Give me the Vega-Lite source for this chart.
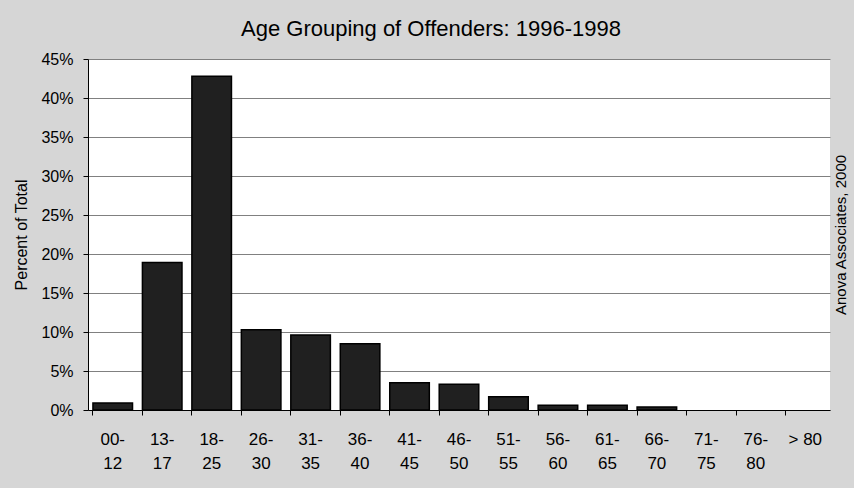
{
  "$schema": "https://vega.github.io/schema/vega-lite/v6.json",
  "width": 742,
  "height": 351,
  "autosize": {"type": "none"},
  "padding": {"left": 88, "top": 59, "right": 24, "bottom": 78},
  "background": "#d6d6d6",
  "config": {"view": {"stroke": null, "fill": "white"}, "font": "Liberation Sans"},
  "title": {"text": "Age Grouping of Offenders: 1996-1998", "fontSize": 22, "fontWeight": "normal", "color": "#000000", "anchor": "middle", "frame": "group", "dx": -28, "offset": 10},
  "data": {"values": [
    {"age": "00-12", "pct": 0.009},
    {"age": "13-17", "pct": 0.189},
    {"age": "18-25", "pct": 0.428},
    {"age": "26-30", "pct": 0.103},
    {"age": "31-35", "pct": 0.096},
    {"age": "36-40", "pct": 0.085},
    {"age": "41-45", "pct": 0.035},
    {"age": "46-50", "pct": 0.033},
    {"age": "51-55", "pct": 0.017},
    {"age": "56-60", "pct": 0.006},
    {"age": "61-65", "pct": 0.006},
    {"age": "66-70", "pct": 0.004},
    {"age": "71-75", "pct": 0},
    {"age": "76-80", "pct": 0},
    {"age": "> 80", "pct": 0}
  ]},
  "layer": [
    {
      "mark": {"type": "bar", "fill": "#202020", "stroke": "#000000"},
      "encoding": {
        "strokeWidth": {"condition": {"test": "datum.pct > 0", "value": 1.5}, "value": 0},
        "x": {"field": "age", "type": "nominal", "sort": null,
          "scale": {"paddingInner": 0.2, "paddingOuter": 0.1},
          "axis": {"orient": "bottom", "title": null, "labelAngle": 0, "ticks": false, "tickSize": 0,
            "labelExpr": "indexof(datum.label, '-') > 0 ? [slice(datum.label, 0, 3), slice(datum.label, 3)] : datum.label",
            "labelFontSize": 17, "labelLineHeight": 24, "labelPadding": 21, "labelColor": "#000000",
            "domainColor": "#000000", "domainWidth": 1, "grid": false}},
        "y": {"field": "pct", "type": "quantitative",
          "scale": {"domain": [0, 0.45], "nice": false},
          "axis": {"orient": "left", "title": "Percent of Total", "format": ".0%",
            "values": [0, 0.05, 0.1, 0.15, 0.2, 0.25, 0.3, 0.35, 0.4, 0.45],
            "grid": true, "gridColor": "#808080", "gridWidth": 1.2,
            "domainColor": "#000000", "tickColor": "#000000", "tickSize": 5,
            "labelFontSize": 16, "labelPadding": 10, "labelColor": "#000000",
            "titleFontSize": 16, "titleFontWeight": "normal", "titleColor": "#000000", "titlePadding": 11}}
      }
    },
    {
      "mark": {"type": "bar", "opacity": 0},
      "encoding": {
        "x": {"field": "age", "type": "nominal", "sort": null,
          "axis": {"orient": "bottom", "title": null, "labels": false, "ticks": true, "tickSize": 5,
            "tickColor": "#000000", "bandPosition": 0, "domain": false, "grid": false}},
        "y": {"field": "pct", "type": "quantitative",
          "axis": {"orient": "right", "title": "Anova Associates, 2000", "labels": false, "ticks": false,
            "domain": false, "grid": false, "titleAngle": -90, "titleFontSize": 15,
            "titleFontWeight": "normal", "titleColor": "#000000", "titlePadding": 18}}
      }
    }
  ],
  "resolve": {"axis": {"x": "independent", "y": "independent"}}
}
